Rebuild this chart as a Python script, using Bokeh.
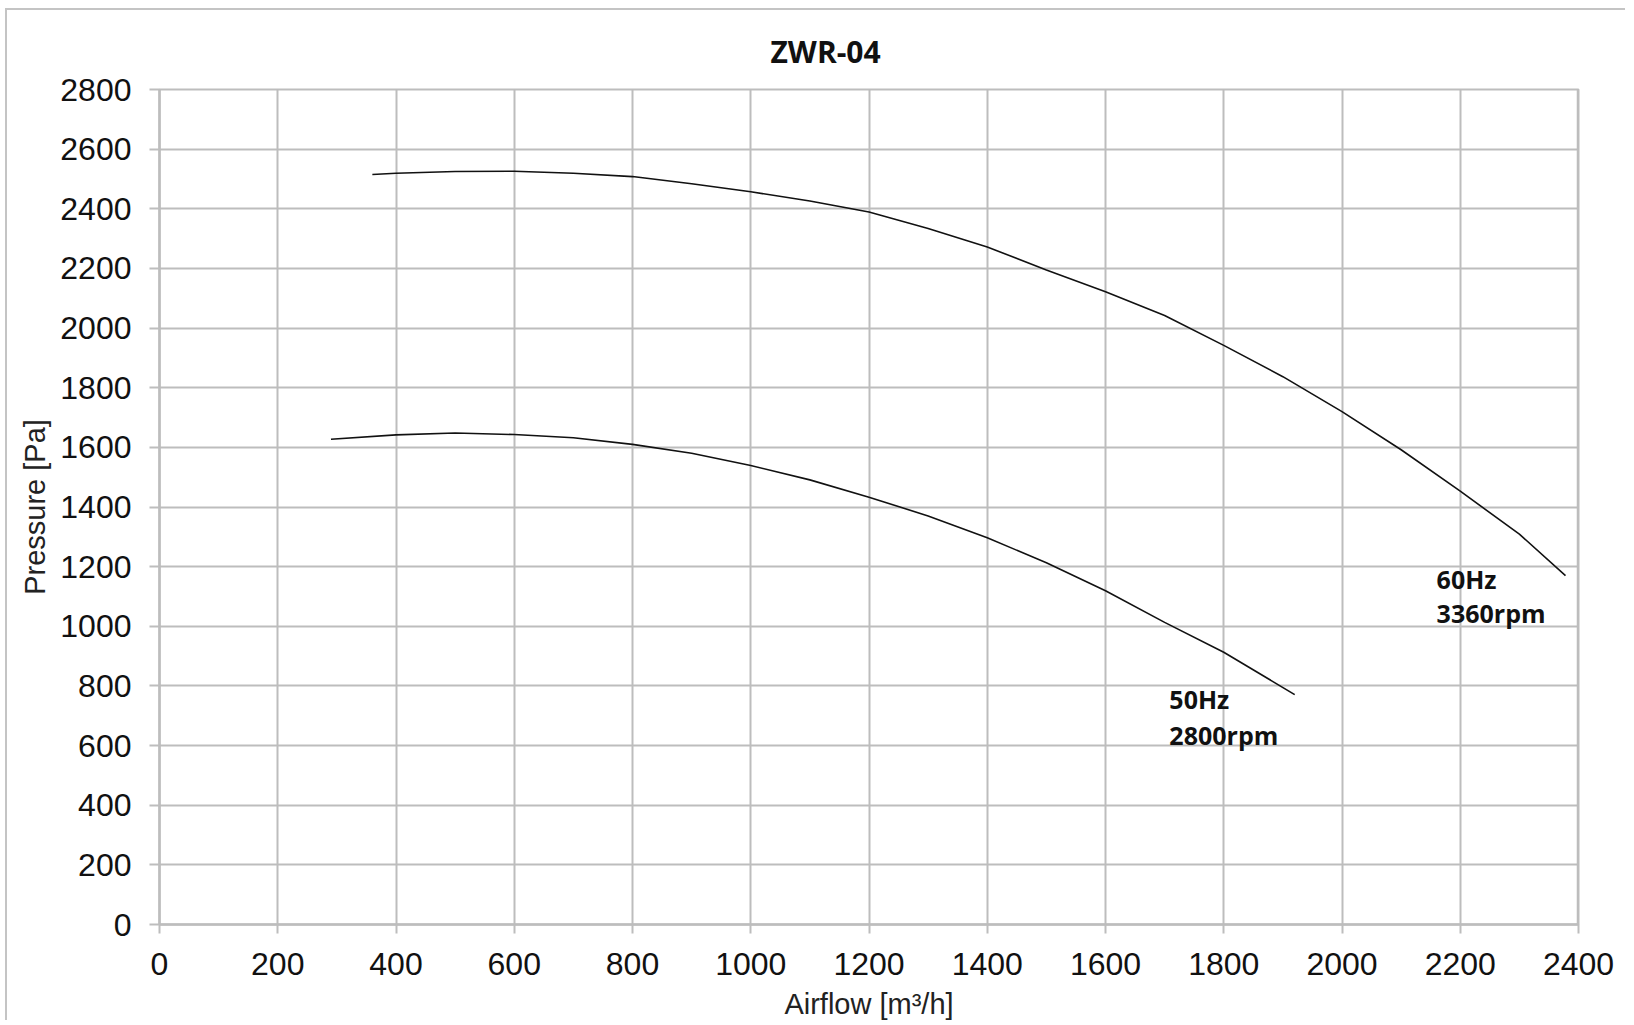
from bokeh.plotting import figure
from bokeh.models import Range1d, FixedTicker, Span, ColumnDataSource
from bokeh.core.properties import value
from bokeh.embed import file_html
from bokeh.resources import INLINE

# ---- data ----
flow_50 = [290, 400, 500, 600, 700, 800, 900, 1000, 1100, 1200, 1300, 1400,
           1500, 1600, 1700, 1800, 1920]
pres_50 = [1627, 1642, 1648, 1643, 1632, 1610, 1580, 1539, 1491, 1433, 1370,
           1297, 1213, 1119, 1013, 913, 771]

flow_60 = [360, 400, 500, 600, 700, 800, 900, 1000, 1100, 1200, 1300, 1400,
           1500, 1600, 1700, 1800, 1900, 2000, 2100, 2200, 2300, 2378]
pres_60 = [2515, 2519, 2525, 2526, 2519, 2508, 2484, 2457, 2426, 2389, 2334,
           2272, 2195, 2122, 2042, 1942, 1837, 1720, 1592, 1453, 1309, 1170]

x_ticks = [0, 200, 400, 600, 800, 1000, 1200, 1400, 1600, 1800, 2000, 2200, 2400]
y_ticks = [0, 200, 400, 600, 800, 1000, 1200, 1400, 1600, 1800, 2000, 2200,
           2400, 2600, 2800]

curve_labels = ["60Hz", "3360rpm", "50Hz", "2800rpm"]
label_x = [2160, 2160, 1708, 1708]
label_y = [1160, 1043, 756, 635]

title_text = "ZWR-04"
x_label = "Airflow [m³/h]"
y_label = "Pressure [Pa]"

GRID = "#bdbdbd"

p = figure(width=1620, height=1012,
           x_range=Range1d(0, 2400), y_range=Range1d(0, 2800),
           output_backend="svg", toolbar_location=None,
           min_border_left=152, min_border_top=78,
           min_border_right=49, min_border_bottom=96)

p.styles = {"margin-left": "5px", "margin-top": "8px",
            "border-left": "2px solid #c4c4c4", "border-top": "2px solid #c4c4c4"}

p.background_fill_color = "white"
p.border_fill_color = "white"
p.outline_line_color = GRID
p.outline_line_width = 2

# title
p.title.text = title_text
p.title.align = "left"
p.title.offset = 611
p.title.text_font = "Open Sans"
p.title.text_font_style = "bold"
p.title.text_font_size = "30px"
p.title.text_color = "#111111"
p.title.standoff = 36

# axes
p.xaxis.ticker = FixedTicker(ticks=x_ticks)
p.yaxis.ticker = FixedTicker(ticks=y_ticks)
p.axis.minor_tick_line_color = None
p.axis.major_tick_in = 0
p.xaxis.major_tick_out = 9
p.yaxis.major_tick_out = 10
p.axis.major_tick_line_color = GRID
p.axis.major_tick_line_width = 2
p.axis.axis_line_color = GRID
p.axis.axis_line_width = 2.5
p.axis.major_label_text_font = "Liberation Sans"
p.axis.major_label_text_font_size = "32px"
p.axis.major_label_text_color = "#111111"
p.xaxis.major_label_standoff = 19
p.yaxis.major_label_standoff = 18
p.xaxis.axis_label = x_label
p.yaxis.axis_label = y_label
p.axis.axis_label_text_font = "Liberation Sans"
p.axis.axis_label_text_font_size = "29px"
p.axis.axis_label_text_font_style = "normal"
p.axis.axis_label_text_color = "#222222"
p.xaxis.axis_label_standoff = 10
p.yaxis.axis_label_standoff = 6

# grid
p.grid.grid_line_color = GRID
p.grid.grid_line_width = 2
p.grid.grid_line_alpha = 1.0

# thicker right edge of plot area
p.add_layout(Span(location=2400, dimension="height", line_color=GRID, line_width=3.5))

# curves
p.line(flow_50, pres_50, line_color="#111111", line_width=1.6)
p.line(flow_60, pres_60, line_color="#111111", line_width=1.6)

# curve labels
src = ColumnDataSource(dict(x=label_x, y=label_y, t=curve_labels))
p.text(x="x", y="y", text="t", source=src,
       text_font=value("Open Sans"), text_font_style="bold",
       text_font_size="25px", text_color="#111111",
       text_align="left", text_baseline="alphabetic")

open("out.html", "w").write(file_html(p, INLINE))
